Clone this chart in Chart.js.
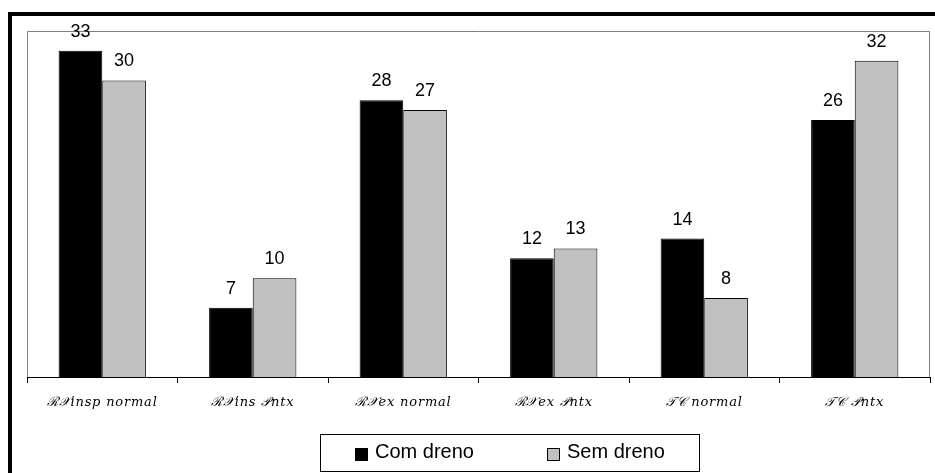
<!DOCTYPE html>
<html>
<head>
<meta charset="utf-8">
<script src="https://cdn.jsdelivr.net/npm/chart.js@4/dist/chart.umd.min.js"></script>
<style>
  html, body { margin: 0; padding: 0; background: #ffffff; }
  #wrap { width: 935px; height: 473px; position: relative; }
</style>
</head>
<body>
<div id="wrap"><canvas id="c" width="935" height="473"></canvas></div>
<script>
// Exam categories and counts per group
const categories = ['ℛ𝒳insp normal', 'ℛ𝒳ins 𝒫ntx', 'ℛ𝒳ex normal', 'ℛ𝒳ex 𝒫ntx', '𝒯𝒞 normal', '𝒯𝒞 𝒫ntx'];
const comDreno = [33, 7, 28, 12, 14, 26];
const semDreno = [30, 10, 27, 13, 8, 32];
const seriesNames = ['Com dreno', 'Sem dreno'];

// Outer frame, plot frame, value labels and boxed legend
const decorations = {
  id: 'decorations',
  beforeDraw(chart) {
    const ctx = chart.ctx, a = chart.chartArea;
    ctx.save();
    ctx.fillStyle = '#ffffff';
    ctx.fillRect(0, 0, chart.width, chart.height);
    // thick outer frame
    ctx.strokeStyle = '#000000';
    ctx.lineWidth = 4;
    ctx.strokeRect(10, 14, chart.width + 20, chart.height + 20);
    // thin plot-area frame
    ctx.strokeStyle = '#808080';
    ctx.lineWidth = 1;
    ctx.beginPath();
    ctx.moveTo(Math.round(a.left) + 0.5, Math.round(a.bottom));
    ctx.lineTo(Math.round(a.left) + 0.5, Math.round(a.top) + 0.5);
    ctx.lineTo(Math.round(a.right) - 0.5, Math.round(a.top) + 0.5);
    ctx.lineTo(Math.round(a.right) - 0.5, Math.round(a.bottom));
    ctx.stroke();
    ctx.restore();
    // slightly spaced category lettering
    ctx.letterSpacing = '0.8px';
  },
  afterDatasetsDraw(chart) {
    const ctx = chart.ctx;
    ctx.letterSpacing = '0px';
    ctx.save();
    ctx.font = '18px "Liberation Sans", Arial, sans-serif';
    ctx.fillStyle = '#000000';
    ctx.textAlign = 'center';
    ctx.textBaseline = 'alphabetic';
    chart.data.datasets.forEach((ds, di) => {
      chart.getDatasetMeta(di).data.forEach((bar, i) => {
        ctx.fillText(String(ds.data[i]), bar.x, bar.y - 14);
      });
    });
    // legend box
    const bx = 320.5, by = 434.5, bw = 379, bh = 37;
    ctx.strokeStyle = '#000000';
    ctx.lineWidth = 1;
    ctx.strokeRect(bx, by, bw, bh);
    const items = [355, 547];
    ctx.font = '20px "Liberation Sans", Arial, sans-serif';
    ctx.textAlign = 'left';
    ctx.textBaseline = 'alphabetic';
    chart.data.datasets.forEach((ds, di) => {
      const x = items[di];
      ctx.fillStyle = ds.backgroundColor;
      ctx.fillRect(x, 448, 13, 13);
      ctx.strokeStyle = '#000000';
      ctx.strokeRect(x + 0.5, 448.5, 12, 12);
      ctx.fillStyle = '#000000';
      ctx.fillText(ds.label, x + 20, 458);
    });
    ctx.restore();
  }
};

new Chart(document.getElementById('c'), {
  type: 'bar',
  data: {
    labels: categories,
    datasets: [
      { label: seriesNames[0], data: comDreno, backgroundColor: '#000000', borderColor: '#000000', borderWidth: 1 },
      { label: seriesNames[1], data: semDreno, backgroundColor: '#c0c0c0', borderColor: '#000000', borderWidth: 1 }
    ]
  },
  options: {
    responsive: false,
    animation: false,
    devicePixelRatio: 1,
    layout: { padding: { left: 27, right: 5, top: 31, bottom: 0 } },
    datasets: { bar: { categoryPercentage: 0.58, barPercentage: 1.0 } },
    plugins: {
      legend: { display: false },
      tooltip: { enabled: false }
    },
    scales: {
      x: {
        afterFit(scale) { scale.height = 96; },
        grid: { offset: true, drawOnChartArea: false, tickLength: 6, color: '#000000' },
        border: { color: '#000000', width: 1 },
        ticks: {
          color: '#000000',
          padding: 12,
          maxRotation: 0,
          autoSkip: false,
          font: { family: '"DejaVu Serif", serif', style: 'italic', size: 13 }
        }
      },
      y: {
        display: false,
        min: 0,
        max: 35
      }
    }
  },
  plugins: [decorations]
});
</script>
</body>
</html>
